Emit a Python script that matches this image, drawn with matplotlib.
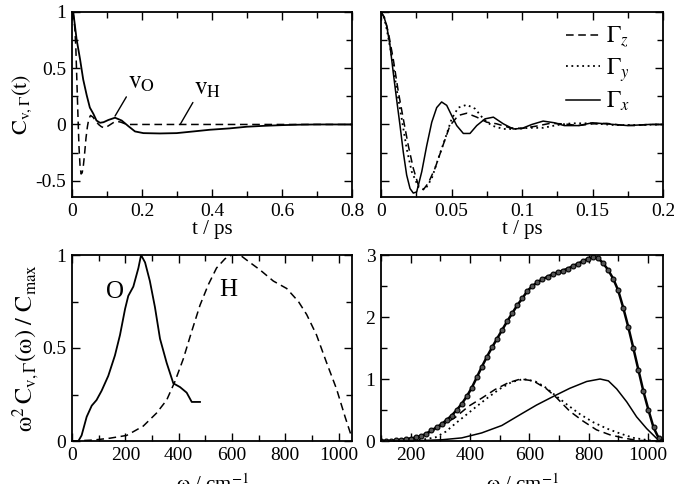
import matplotlib
matplotlib.use("Agg")
import matplotlib.pyplot as plt
from matplotlib.ticker import MultipleLocator, FuncFormatter

plt.rcParams['font.family'] = ['Liberation Serif', 'DejaVu Serif']
plt.rcParams['mathtext.fontset'] = 'stix'
plt.rcParams['axes.unicode_minus'] = False

# ---- top left: velocity autocorrelation, O and H ----
t_O = [0, 0.004, 0.013, 0.023, 0.032, 0.042, 0.051, 0.061, 0.07, 0.08, 0.09, 0.104,
       0.123, 0.142, 0.161, 0.18, 0.204, 0.251, 0.299, 0.347, 0.394, 0.45, 0.5,
       0.55, 0.6, 0.65, 0.7, 0.75, 0.8]
c_O = [1.0, 0.99, 0.76, 0.58, 0.40, 0.26, 0.15, 0.095, 0.035, 0.015, 0.02, 0.04,
       0.06, 0.035, -0.015, -0.062, -0.077, -0.08, -0.077, -0.062, -0.047, -0.035, -0.02,
       -0.012, -0.006, -0.002, 0.0, 0.0, 0.0]
t_H = [0, 0.004, 0.008, 0.011, 0.014, 0.017, 0.020, 0.023, 0.026, 0.029, 0.032, 0.036,
       0.040, 0.044, 0.048, 0.053, 0.060, 0.068, 0.076, 0.084, 0.092, 0.100, 0.110,
       0.120, 0.130, 0.140, 0.150, 0.160, 0.2, 0.3, 0.4, 0.5, 0.6, 0.7, 0.8]
c_H = [1.0, 0.97, 0.86, 0.68, 0.38, 0.08, -0.2, -0.37, -0.44, -0.43, -0.38, -0.26,
       -0.12, -0.02, 0.05, 0.08, 0.065, 0.03, 0.0, -0.02, -0.03, -0.02, 0.0,
       0.02, 0.027, 0.02, 0.008, 0.0, 0.0, 0.0, 0.0, 0.0, 0.0, 0.0, 0.0]

# ---- top right: components Gamma_x, Gamma_y, Gamma_z ----
t_gx = [0, 0.002, 0.004, 0.0064, 0.0087, 0.011, 0.0135, 0.0158, 0.0182, 0.0206, 0.0229,
        0.0253, 0.0289, 0.0324, 0.036, 0.0395, 0.043, 0.0466, 0.0501, 0.0537, 0.0584,
        0.0631, 0.0679, 0.0738, 0.0797, 0.0867, 0.0938, 0.1, 0.107, 0.115, 0.123, 0.13,
        0.14, 0.15, 0.16, 0.175, 0.19, 0.2]
c_gx = [1.0, 0.96, 0.88, 0.70, 0.46, 0.23, -0.01, -0.245, -0.45, -0.57, -0.61,
        -0.60, -0.42, -0.19, 0.02, 0.15, 0.20, 0.17, 0.08, -0.01, -0.08,
        -0.08, -0.01, 0.05, 0.065, 0.006, -0.04, -0.035, 0.0, 0.03, 0.015, -0.01,
        -0.01, 0.015, 0.005, -0.01, 0.0, 0.0]
t_gz = [0, 0.0025, 0.0052, 0.0087, 0.0123, 0.0158, 0.0194, 0.0229, 0.0265, 0.03, 0.0336,
        0.0383, 0.043, 0.0489, 0.0548, 0.0608, 0.0679, 0.075, 0.082, 0.0915, 0.1, 0.11,
        0.12, 0.13, 0.14, 0.15, 0.16, 0.17, 0.18, 0.19, 0.2]
c_gz = [1.0, 0.95, 0.82, 0.58, 0.29, 0.05, -0.19, -0.39, -0.54, -0.58, -0.52,
        -0.39, -0.22, -0.01, 0.08, 0.10, 0.065, 0.02, 0.006, -0.03, -0.035, -0.015,
        0.01, 0.005, -0.01, 0.005, 0.01, -0.005, -0.01, 0.0, 0.0]
t_gy = [0, 0.002, 0.004, 0.0076, 0.011, 0.0147, 0.0182, 0.0218, 0.0265, 0.0312, 0.036,
        0.0407, 0.0454, 0.0501, 0.0548, 0.0608, 0.0667, 0.0726, 0.0785, 0.0867, 0.095,
        0.105, 0.115, 0.125, 0.135, 0.15, 0.165, 0.18, 0.2]
c_gy = [1.0, 0.96, 0.85, 0.61, 0.32, 0.05, -0.215, -0.42, -0.555, -0.58, -0.48,
        -0.30, -0.13, 0.05, 0.15, 0.175, 0.14, 0.05, -0.01, -0.04, -0.04,
        -0.03, -0.03, -0.005, 0.01, 0.01, -0.005, -0.005, 0.0]

# ---- bottom left: spectra O and H ----
w_O = [0, 24, 36, 55, 74, 92, 111, 136, 161, 180, 199, 211, 230, 249, 259, 274, 292,
       311, 330, 355, 380, 405, 430, 449, 467, 480]
s_O = [0, 0, 0.03, 0.13, 0.19, 0.22, 0.27, 0.35, 0.46, 0.57, 0.71, 0.78, 0.83, 0.93,
       1.0, 0.96, 0.86, 0.72, 0.55, 0.42, 0.31, 0.29, 0.26, 0.21, 0.21, 0.21]
w_H = [0, 80, 142, 205, 267, 317, 355, 386, 417, 449, 480, 511, 542, 574, 599, 630,
       667, 705, 755, 805, 849, 880, 917, 955, 992, 1024, 1049]
s_H = [0, 0.005, 0.015, 0.03, 0.08, 0.15, 0.22, 0.32, 0.44, 0.59, 0.73, 0.84, 0.93,
       0.98, 1.0, 1.0, 0.96, 0.92, 0.86, 0.82, 0.75, 0.68, 0.57, 0.42, 0.28, 0.13, 0.02]

# ---- bottom right: H spectra by component + total ----
w_tot = [100, 117, 134, 151, 168, 185, 202, 219, 236, 253, 270, 287, 304, 321, 338,
         355, 372, 389, 406, 423, 440, 457, 474, 491, 508, 525, 542, 559, 576, 593,
         610, 627, 644, 661, 678, 695, 712, 729, 746, 763, 780, 797, 814, 831, 848,
         865, 882, 899, 916, 933, 950, 967, 984, 1001, 1018, 1035, 1045]
s_tot = [0.0, 0.0, 0.0, 0.01, 0.02, 0.03, 0.04, 0.06, 0.08, 0.12, 0.17, 0.22, 0.27,
         0.34, 0.41, 0.50, 0.60, 0.72, 0.86, 1.03, 1.20, 1.36, 1.51, 1.65, 1.79, 1.93,
         2.06, 2.19, 2.30, 2.42, 2.50, 2.56, 2.61, 2.65, 2.69, 2.72, 2.75, 2.78, 2.82,
         2.86, 2.90, 2.94, 2.97, 2.95, 2.87, 2.76, 2.62, 2.43, 2.15, 1.84, 1.50, 1.15,
         0.80, 0.50, 0.22, 0.05, 0.0]
w_z = [100, 150, 200, 250, 305, 350, 395, 439, 484, 529, 570, 613, 658, 691, 736, 781,
       826, 871, 916, 961, 1029]
s_z = [0, 0.01, 0.04, 0.1, 0.25, 0.38, 0.56, 0.69, 0.83, 0.94, 1.0, 0.97, 0.84, 0.7,
       0.48, 0.32, 0.18, 0.1, 0.05, 0.01, 0]
w_y = [100, 200, 250, 284, 318, 350, 384, 420, 460, 500, 540, 580, 620, 650, 681, 726,
       771, 816, 861, 906, 951, 1018]
s_y = [0, 0.01, 0.03, 0.06, 0.15, 0.28, 0.41, 0.55, 0.7, 0.84, 0.95, 1.0, 0.96, 0.88,
       0.76, 0.59, 0.43, 0.3, 0.2, 0.12, 0.05, 0]
w_x = [100, 200, 250, 305, 372, 439, 507, 574, 624, 681, 736, 793, 838, 866, 894, 928,
       961, 995, 1029, 1040]
s_x = [0, 0.0, 0.01, 0.02, 0.05, 0.13, 0.25, 0.44, 0.58, 0.72, 0.85, 0.96, 1.0, 0.97,
       0.84, 0.63, 0.39, 0.2, 0.04, 0]

W, H = 674, 484
fig = plt.figure(figsize=(W / 100, H / 100), dpi=100)


def box(x0, y0, x1, y1):
    return [x0 / W, 1 - y1 / H, (x1 - x0) / W, (y1 - y0) / H]


ax1 = fig.add_axes(box(72, 12, 352, 197))
ax2 = fig.add_axes(box(381, 12, 663, 197))
ax3 = fig.add_axes(box(72, 255, 352, 441))
ax4 = fig.add_axes(box(381, 255, 663, 441))

fmt = FuncFormatter(lambda v, p: '%g' % round(v, 6))
FS = 14
for ax in (ax1, ax2, ax3, ax4):
    ax.tick_params(which='both', direction='in', top=True, right=True,
                   labelsize=FS, width=1.0)
    ax.tick_params(which='major', length=6, pad=4)
    ax.tick_params(which='minor', length=4)
    ax.xaxis.set_major_formatter(fmt)
    ax.yaxis.set_major_formatter(fmt)
    for s in ax.spines.values():
        s.set_linewidth(1.3)

lw = 1.1
dash = (5, 3)
dot = (1, 2)

# top left
ax1.plot(t_H, c_H, color='black', lw=lw, dashes=dash)
ax1.plot(t_O, c_O, color='black', lw=1.3)
ax1.set_xlim(0, 0.8)
ax1.set_ylim(-0.645, 1.0)
ax1.xaxis.set_major_locator(MultipleLocator(0.2))
ax1.xaxis.set_minor_locator(MultipleLocator(0.1))
ax1.yaxis.set_major_locator(MultipleLocator(0.5))
ax1.yaxis.set_minor_locator(MultipleLocator(0.25))
ax1.set_xlabel('t / ps', fontsize=15)
ax1.xaxis.set_label_coords(0.5, -0.125)
ax1.set_ylabel(r'$\mathrm{C}_{\mathrm{v},\Gamma}\mathrm{(t)}$', fontsize=16)
ax1.yaxis.set_label_coords(-0.135, 0.5)
ax1.annotate(r'$\mathrm{v}_\mathrm{O}$', xy=(0.123, 0.075), xytext=(0.16, 0.27),
             fontsize=18, ha='left', va='bottom',
             arrowprops=dict(arrowstyle='-', lw=1.0, relpos=(0, 0), shrinkA=0, shrinkB=0))
ax1.annotate(r'$\mathrm{v}_\mathrm{H}$', xy=(0.309, 0.0), xytext=(0.35, 0.22),
             fontsize=18, ha='left', va='bottom',
             arrowprops=dict(arrowstyle='-', lw=1.0, relpos=(0, 0), shrinkA=0, shrinkB=0))

# top right
ax2.plot(t_gz, c_gz, color='black', lw=lw, dashes=dash, label=r'$\Gamma_z$')
ax2.plot(t_gy, c_gy, color='black', lw=1.3, dashes=dot, label=r'$\Gamma_y$')
ax2.plot(t_gx, c_gx, color='black', lw=lw, label=r'$\Gamma_x$')
ax2.set_xlim(0, 0.2)
ax2.set_ylim(-0.645, 1.0)
ax2.xaxis.set_major_locator(MultipleLocator(0.05))
ax2.xaxis.set_minor_locator(MultipleLocator(0.025))
ax2.yaxis.set_major_locator(MultipleLocator(0.5))
ax2.yaxis.set_minor_locator(MultipleLocator(0.25))
ax2.tick_params(labelleft=False)
ax2.set_xlabel('t / ps', fontsize=15)
ax2.xaxis.set_label_coords(0.5, -0.125)
ax2.legend(loc='upper left', bbox_to_anchor=(0.655, 0.93), frameon=False,
           fontsize=17, handlelength=1.45, handletextpad=0.25, labelspacing=0.25,
           borderaxespad=0, borderpad=0)

# bottom left
ax3.plot(w_H, s_H, color='black', lw=lw, dashes=dash)
ax3.plot(w_O, s_O, color='black', lw=1.3)
ax3.set_xlim(0, 1050)
ax3.set_ylim(0, 1.0)
ax3.xaxis.set_major_locator(MultipleLocator(200))
ax3.xaxis.set_minor_locator(MultipleLocator(100))
ax3.yaxis.set_major_locator(MultipleLocator(0.5))
ax3.yaxis.set_minor_locator(MultipleLocator(0.25))
ax3.text(161, 0.80, 'O', fontsize=18, ha='center', va='center')
ax3.text(586, 0.81, 'H', fontsize=18, ha='center', va='center')
ax3.set_xlabel(r'$\mathrm{\omega}$ / cm$^{-1}$', fontsize=15)
ax3.xaxis.set_label_coords(0.5, -0.18)
ax3.set_ylabel(r'$\mathrm{\omega}^2\,\mathrm{C}_{\mathrm{v},\Gamma}(\mathrm{\omega})\ /\ \mathrm{C}_{\mathrm{max}}$',
               fontsize=17.5)
ax3.yaxis.set_label_coords(-0.11, 0.5)

# bottom right
ax4.plot(w_z, s_z, color='black', lw=lw, dashes=dash)
ax4.plot(w_y, s_y, color='black', lw=1.3, dashes=dot)
ax4.plot(w_x, s_x, color='black', lw=lw)
ax4.plot(w_tot, s_tot, color='black', lw=1.8, marker='o', ms=3.5, mfc='#555555',
         mec='black', mew=0.8)
ax4.set_xlim(100, 1050)
ax4.set_ylim(0, 3)
ax4.xaxis.set_major_locator(MultipleLocator(200))
ax4.xaxis.set_minor_locator(MultipleLocator(100))
ax4.yaxis.set_major_locator(MultipleLocator(1))
ax4.yaxis.set_minor_locator(MultipleLocator(0.5))
ax4.set_xlabel(r'$\mathrm{\omega}$ / cm$^{-1}$', fontsize=15)
ax4.xaxis.set_label_coords(0.5, -0.18)

fig.savefig('out.png', dpi=100)
